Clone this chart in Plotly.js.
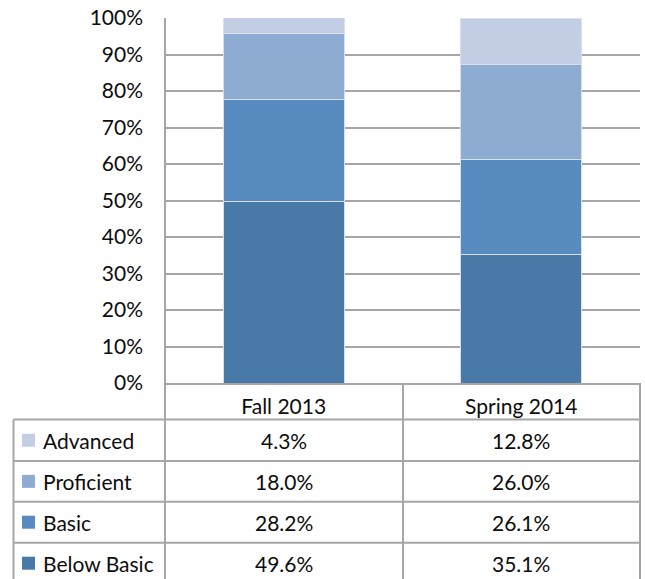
<!DOCTYPE html>
<html>
<head>
<meta charset="utf-8">
<script src="https://cdn.plot.ly/plotly-3.0.1.min.js"></script>
<style>html,body{margin:0;padding:0;background:#fff;}#chart{width:645px;height:579px;}</style>
</head>
<body>
<div id="chart"></div>
<script>
// ---- data ----
const categories = ['Fall 2013', 'Spring 2014'];
const seriesNames = ['Advanced', 'Proficient', 'Basic', 'Below Basic'];
const advanced = [4.3, 12.8];
const proficient = [18.0, 26.0];
const basic = [28.2, 26.1];
const belowBasic = [49.6, 35.1];
const yTicks = [0, 10, 20, 30, 40, 50, 60, 70, 80, 90, 100];

// ---- styles ----
const seriesColors = {
  'Advanced': '#c3cde3',
  'Proficient': '#8eacd1',
  'Basic': '#588bbf',
  'Below Basic': '#4979a6'
};
const seriesValues = {
  'Advanced': advanced,
  'Proficient': proficient,
  'Basic': basic,
  'Below Basic': belowBasic
};

const W = 645, H = 579;
const mL = 165, mR = 5, mT = 18, mB = 196;
const plotH = H - mT - mB;
const plotW = W - mL - mR;
const px2x = p => (p - mL) / plotW;
const py2y = p => (H - mB - p) / plotH;
const FONT = 'Lato, "DejaVu Sans", sans-serif';
const fs = 21;
const txtCol = '#0d0d0d';
const lineCol = '#a6a6a6';

// stack order: bottom first
const order = ['Below Basic', 'Basic', 'Proficient', 'Advanced'];
const traces = order.map(name => ({
  type: 'bar',
  name: name,
  x: categories,
  y: seriesValues[name],
  marker: {color: seriesColors[name], line: {color: '#d6e0ef', width: 1}},
  hoverinfo: 'name+y'
}));

// table geometry (pixels)
const rowTops = [419.5, 461, 501.7, 542.7];
const rowBottom = 579;
const tableLeft = 13.5, colDiv = 403, tableRight = 640, axisBottom = H - mB;

const shapes = [];
const annotations = [];
const ln = (x0, y0, x1, y1) => shapes.push({
  type: 'line', xref: 'paper', yref: 'paper',
  x0: px2x(x0), y0: py2y(y0), x1: px2x(x1), y1: py2y(y1),
  line: {color: lineCol, width: 2}, layer: 'above'
});
// vertical lines
ln(mL, mT, mL, rowBottom);
ln(tableLeft, rowTops[0], tableLeft, rowBottom);
ln(colDiv, axisBottom, colDiv, rowBottom);
ln(tableRight, axisBottom, tableRight, rowBottom);
// horizontal lines
rowTops.forEach(t => ln(tableLeft, t, tableRight, t));

seriesNames.forEach((name, i) => {
  const top = rowTops[i];
  const bot = i < rowTops.length - 1 ? rowTops[i + 1] : rowTops[i] + 41;
  const cy = (top + bot) / 2;
  shapes.push({
    type: 'rect', xref: 'paper', yref: 'paper',
    x0: px2x(22), x1: px2x(35), y0: py2y(cy - 6.5), y1: py2y(cy + 6.5),
    fillcolor: seriesColors[name], line: {width: 0}, layer: 'above'
  });
  annotations.push({
    xref: 'paper', yref: 'paper', x: px2x(41), y: py2y(cy),
    xanchor: 'left', yanchor: 'middle', showarrow: false,
    text: name, font: {family: FONT, size: fs, color: txtCol}
  });
  categories.forEach((c, j) => {
    annotations.push({
      xref: 'x', yref: 'paper', x: c, y: py2y(cy),
      xanchor: 'center', yanchor: 'middle', showarrow: false,
      text: seriesValues[name][j].toFixed(1) + '%',
      font: {family: FONT, size: fs, color: txtCol}
    });
  });
});

const layout = {
  width: W, height: H,
  margin: {l: mL, r: mR, t: mT, b: mB, pad: 0},
  paper_bgcolor: '#fff', plot_bgcolor: '#fff',
  barmode: 'stack', bargap: 0.49,
  showlegend: false,
  font: {family: FONT, size: fs, color: txtCol},
  xaxis: {
    type: 'category', range: [-0.5, 1.5],
    showgrid: false, zeroline: false,
    showline: true, linecolor: lineCol, linewidth: 2,
    ticks: '', ticklabelstandoff: 4,
    tickfont: {family: FONT, size: fs, color: txtCol},
    fixedrange: true
  },
  yaxis: {
    range: [0, 100], tickvals: yTicks, ticktext: yTicks.map(v => v + '%'),
    showgrid: true, gridcolor: lineCol, gridwidth: 2,
    zeroline: false, showline: false,
    ticks: '', ticklabelstandoff: 21,
    tickfont: {family: FONT, size: fs, color: txtCol},
    fixedrange: true
  },
  shapes: shapes,
  annotations: annotations
};

Plotly.newPlot('chart', traces, layout, {displayModeBar: false, staticPlot: true});
</script>
</body>
</html>
